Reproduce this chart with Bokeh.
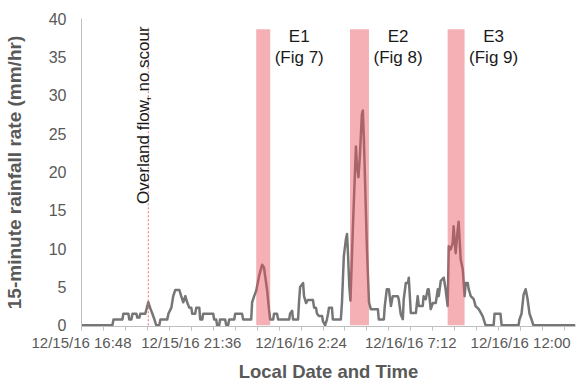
import numpy as np
from bokeh.plotting import figure
from bokeh.models import Range1d, FixedTicker
from bokeh.core.properties import value
from bokeh.embed import file_html
from bokeh.resources import INLINE

# ---- data -------------------------------------------------------------
# time in hours since 12/15/16 00:00 local time
hours = [16.80, 18.15, 18.20, 18.59, 18.63, 18.85, 18.89, 18.98, 19.03, 19.20,
         19.24, 19.33, 19.37, 19.59, 19.72, 19.81, 19.90, 19.99, 20.07, 20.20,
         20.25, 20.55, 20.60, 20.73, 20.81, 20.90, 21.08, 21.16, 21.25, 21.34,
         21.42, 21.51, 21.60, 21.64, 21.77, 21.82, 21.95, 21.99, 22.08, 22.12,
         22.56, 22.60, 22.69, 22.73, 22.82, 22.86, 23.08, 23.13, 23.21, 23.26,
         23.48, 23.52, 23.82, 23.87, 24.22, 24.26, 24.35, 24.44, 24.57, 24.70,
         24.78, 24.92, 25.00, 25.05, 25.18, 25.22, 25.35, 25.40, 25.88, 25.92,
         26.01, 26.05, 26.27, 26.31, 26.36, 26.49, 26.53, 26.62, 26.70, 26.92,
         26.97, 27.05, 27.10, 27.18, 27.32, 27.36, 27.45, 27.53, 27.58, 27.62,
         27.75, 27.79, 28.14, 28.19, 28.27, 28.36, 28.41, 28.45, 28.51, 28.56,
         28.67, 28.80, 28.84, 28.91, 28.97, 29.06, 29.10, 29.15, 29.28, 29.37,
         29.45, 29.76, 29.80, 30.02, 30.06, 30.15, 30.24, 30.33, 30.41, 30.63,
         30.67, 30.76, 30.85, 30.89, 30.98, 31.07, 31.11, 31.20, 31.42, 31.50,
         31.55, 31.72, 31.76, 31.85, 31.94, 31.98, 32.07, 32.16, 32.29, 32.38,
         32.42, 32.51, 32.64, 32.72, 32.81, 32.86, 32.94, 33.03, 33.07, 33.16,
         33.25, 33.29, 33.38, 33.47, 33.55, 33.60, 33.69, 33.73, 33.82, 33.95,
         34.03, 34.17, 34.34, 34.47, 34.82, 34.86, 35.12, 35.17, 35.91, 35.95,
         36.04, 36.13, 36.22, 36.30, 36.39, 36.48, 36.56, 38.40]
rain_rate = [0, 0, 0.75, 0.75, 1.5, 1.5, 0.75, 0.75, 1.5, 1.5,
             1.0, 1.0, 1.5, 1.5, 3.0, 2.2, 1.5, 0.75, 0, 0,
             0.75, 0.75, 1.5, 2.3, 3.8, 4.6, 4.6, 3.8, 3.0, 3.8,
             3.0, 2.3, 2.3, 1.5, 1.5, 2.3, 2.3, 0.75, 0.75, 1.5,
             1.5, 0.75, 0.75, 0, 0, 0.75, 0.75, 0, 0, 0.75,
             0.75, 1.5, 1.5, 0.75, 0.75, 3.0, 3.8, 4.5, 6.5, 7.9,
             7.5, 4.5, 2.0, 0.75, 0.75, 1.5, 1.5, 0.75, 0.75, 1.5,
             1.9, 0.75, 0.75, 3.0, 5.0, 5.5, 3.8, 2.9, 3.3, 3.3,
             2.3, 2.3, 1.5, 1.2, 1.2, 0.5, 0, 0.75, 1.5, 2.3,
             2.3, 0.75, 0.75, 3.0, 9.0, 11.2, 11.9, 9.5, 5.0, 3.2,
             13.0, 23.3, 21.0, 19.3, 22.0, 27.5, 28.0, 24.0, 10.0, 3.0,
             2.1, 2.1, 0.75, 0.75, 2.5, 4.7, 4.7, 2.5, 3.8, 3.8,
             3.4, 1.4, 0.8, 3.4, 5.5, 5.5, 6.2, 1.6, 1.6, 3.8,
             2.5, 2.5, 3.8, 3.4, 4.7, 4.7, 2.1, 2.9, 2.9, 4.7,
             3.8, 5.8, 6.2, 4.7, 2.5, 10.3, 9.9, 10.7, 12.9, 9.4,
             12.5, 13.5, 8.6, 7.3, 3.8, 5.5, 5.5, 4.7, 3.8, 3.4,
             2.5, 2.1, 1.2, 0, 0, 1.5, 1.5, 0, 0, 0.75,
             1.5, 4.0, 4.7, 3.5, 1.5, 0.75, 0, 0]

event_names = ["E1", "E2", "E3"]
event_figs = ["(Fig 7)", "(Fig 8)", "(Fig 9)"]
event_start = [24.44, 28.54, 32.81]
event_end = [25.05, 29.37, 33.55]

overland_time = 19.72
overland_label = "Overland flow, no scour"

tick_hours = [16.8, 21.6, 26.4, 31.2, 36.0]
tick_labels = ["12/15/16 16:48", "12/15/16 21:36", "12/16/16 2:24",
               "12/16/16 7:12", "12/16/16 12:00"]
y_ticks = [0, 5, 10, 15, 20, 25, 30, 35, 40]

# ---- layout constants -------------------------------------------------
X_START, X_END = 16.8, 38.4
Y_START, Y_END = -0.16, 40
BAND_TOP = 38.6
FONT = "Liberation Sans"
AXIS_GREY = "#BFBFBF"
TEXT_GREY = "#595959"

p = figure(width=576, height=385, output_backend="svg", toolbar_location=None,
           x_range=Range1d(X_START, X_END), y_range=Range1d(Y_START, Y_END),
           min_border_left=80, min_border_right=1, min_border_top=18,
           min_border_bottom=59)
p.outline_line_color = None
p.xgrid.visible = False
p.ygrid.visible = False

# rainfall series
p.line(hours, rain_rate, line_color="#767676", line_width=2.5, line_join="round")

# event bands drawn over the line (semi-transparent)
p.quad(left=event_start, right=event_end, bottom=0, top=BAND_TOP,
       fill_color="#E6505A", fill_alpha=0.45, line_color=None)

# overland flow marker
p.segment(x0=[overland_time], y0=[0], x1=[overland_time], y1=[38.8],
          line_color="#E87070", line_dash="2 2", line_width=1)
p.text(x=[overland_time - 0.19], y=[27.4], text=[overland_label], angle=np.pi / 2,
       text_align="center", text_baseline="alphabetic",
       text_font=value(FONT), text_font_size="17px", text_color="#1a1a1a")

# event labels
label_x = [e + 1.27 for e in event_end]
p.text(x=label_x, y=[37.66] * 3, text=event_names, text_align="center",
       text_baseline="alphabetic", text_font=value(FONT),
       text_font_size="17px", text_color="#1a1a1a")
p.text(x=label_x, y=[34.87] * 3, text=event_figs, text_align="center",
       text_baseline="alphabetic", text_font=value(FONT),
       text_font_size="17px", text_color="#1a1a1a")

# x axis
xa = p.xaxis[0]
xa.ticker = FixedTicker(ticks=tick_hours,
                        minor_ticks=[X_START + 0.96 * k for k in range(23)])
xa.major_label_overrides = dict(zip(tick_hours, tick_labels))
xa.axis_line_color = AXIS_GREY
xa.major_tick_line_color = AXIS_GREY
xa.minor_tick_line_color = AXIS_GREY
xa.major_tick_out = 4
xa.major_tick_in = 0
xa.minor_tick_out = 4
xa.minor_tick_in = 0
xa.major_label_standoff = 3
xa.major_label_text_font = FONT
xa.major_label_text_font_size = "15px"
xa.major_label_text_color = TEXT_GREY
xa.axis_label = "Local Date and Time"
xa.axis_label_text_font = FONT
xa.axis_label_text_font_size = "18.5px"
xa.axis_label_text_font_style = "bold"
xa.axis_label_text_color = TEXT_GREY
xa.axis_label_standoff = 7

# y axis
ya = p.yaxis[0]
ya.ticker = FixedTicker(ticks=y_ticks, minor_ticks=[])
ya.axis_line_color = AXIS_GREY
ya.major_tick_out = 0
ya.major_tick_in = 0
ya.minor_tick_out = 0
ya.minor_tick_in = 0
ya.major_label_standoff = 15
ya.major_label_text_font = FONT
ya.major_label_text_font_size = "16px"
ya.major_label_text_color = TEXT_GREY
ya.axis_label = "15-minute rainfall rate (mm/hr)"
ya.axis_label_text_font = FONT
ya.axis_label_text_font_size = "19px"
ya.axis_label_text_font_style = "bold"
ya.axis_label_text_color = TEXT_GREY
ya.axis_label_standoff = 21

open("out.html", "w").write(file_html(p, INLINE))
